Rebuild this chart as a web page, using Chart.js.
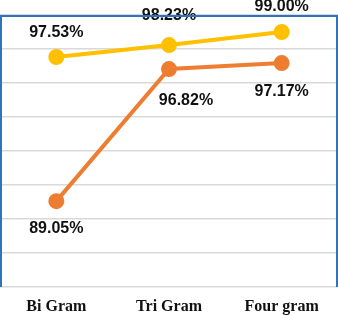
<!DOCTYPE html>
<html>
<head>
<meta charset="utf-8">
<script src="https://cdn.jsdelivr.net/npm/chart.js@4/dist/chart.umd.min.js"></script>
<style>
  html, body { margin: 0; padding: 0; background: #fff; }
  #wrap { width: 338px; height: 316px; }
</style>
</head>
<body>
<div id="wrap"><canvas id="myChart"></canvas></div>
<script>
const CATEGORIES = ['Bi Gram', 'Tri Gram', 'Four gram'];
const TOP_SERIES = [97.53, 98.23, 99.00];
const BOTTOM_SERIES = [89.05, 96.82, 97.17];
const Y_MIN = 84;
const Y_MAX = 100;
const Y_STEP = 2;

// value labels: above for the yellow line, below for the orange one
const valueLabels = {
  id: 'valueLabels',
  afterDatasetsDraw(chart) {
    const ctx = chart.ctx;
    ctx.save();
    ctx.font = 'bold 16px "Liberation Sans", Arial, sans-serif';
    ctx.fillStyle = '#111';
    ctx.textAlign = 'center';
    ctx.textBaseline = 'middle';
    chart.data.datasets.forEach((ds, i) => {
      const meta = chart.getDatasetMeta(i);
      meta.data.forEach((pt, j) => {
        const dy = ds.labelDy[j];
        const dx = ds.labelDx[j];
        ctx.fillText(ds.data[j].toFixed(2) + '%', pt.x + dx, pt.y + dy);
      });
    });
    ctx.restore();
  },
};

// blue frame on left, top and right of the plot
const frame = {
  id: 'frame',
  afterDraw(chart) {
    const { left, top, right, bottom } = chart.chartArea;
    const ctx = chart.ctx;
    ctx.save();
    ctx.fillStyle = '#2f73bd';
    ctx.fillRect(left, top, 2, bottom - top);
    ctx.fillRect(left, top, right - left, 2);
    ctx.fillRect(right - 2, top, 2, bottom - top);
    ctx.restore();
  },
};

const ctx = document.getElementById('myChart').getContext('2d');
new Chart(ctx, {
  type: 'line',
  data: {
    labels: CATEGORIES,
    datasets: [
      {
        data: TOP_SERIES,
        borderColor: '#ffc000',
        backgroundColor: '#ffc000',
        borderWidth: 4,
        pointRadius: 6,
        pointHoverRadius: 6,
        labelDy: [-24, -29, -25],
        labelDx: [0, 0, 0],
      },
      {
        data: BOTTOM_SERIES,
        borderColor: '#ed7d31',
        backgroundColor: '#ed7d31',
        borderWidth: 4,
        pointRadius: 6,
        pointHoverRadius: 6,
        labelDy: [27, 32, 28],
        labelDx: [0, 17, 0],
      },
    ],
  },
  options: {
    responsive: true,
    maintainAspectRatio: false,
    animation: false,
    layout: { autoPadding: false, padding: { top: 15, left: 0, right: 0, bottom: 0 } },
    plugins: {
      legend: { display: false },
      tooltip: { enabled: false },
    },
    scales: {
      x: {
        offset: true,
        grid: { display: false, drawTicks: false },
        border: { display: false },
        afterFit: (scale) => {
          scale.height = 29;
          scale.paddingLeft = 0;
          scale.paddingRight = 0;
        },
        ticks: {
          padding: 10,
          maxRotation: 0,
          color: '#111',
          font: { family: '"Liberation Serif", "Times New Roman", serif', size: 16, weight: 'bold' },
        },
      },
      y: {
        min: Y_MIN,
        max: Y_MAX,
        afterFit: (scale) => {
          scale.width = 0;
          scale.paddingTop = 0;
          scale.paddingBottom = 0;
        },
        ticks: { display: false, stepSize: Y_STEP },
        grid: { color: '#d9d9d9', lineWidth: 1.5, drawTicks: false },
        border: { display: false },
      },
    },
  },
  plugins: [valueLabels, frame],
});
</script>
</body>
</html>
